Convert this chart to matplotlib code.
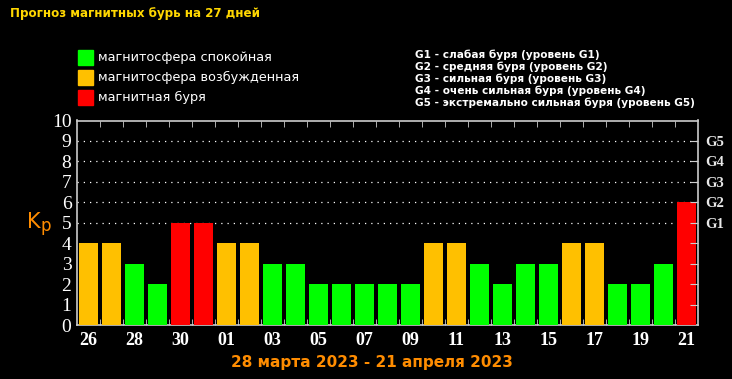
import matplotlib
matplotlib.use("Agg")
import matplotlib.pyplot as plt

# forecast data: one value per day, 26 March .. 21 April
days = ['26', '27', '28', '29', '30', '31', '01', '02', '03', '04', '05', '06', '07', '08',
        '09', '10', '11', '12', '13', '14', '15', '16', '17', '18', '19', '20', '21']
kp = [4, 4, 3, 2, 5, 5, 4, 4, 3, 3, 2, 2, 2, 2, 2, 4, 4, 3, 2, 3, 3, 4, 4, 2, 2, 3, 6]
state = ['w', 'w', 'q', 'q', 's', 's', 'w', 'w', 'q', 'q', 'q', 'q', 'q', 'q', 'q',
         'w', 'w', 'q', 'q', 'q', 'q', 'w', 'w', 'q', 'q', 'q', 's']

state_colors = {'q': '#00ff00', 'w': '#ffc000', 's': '#ff0000'}
legend_labels = ['магнитосфера спокойная', 'магнитосфера возбужденная', 'магнитная буря']
g_levels = [5, 6, 7, 8, 9]
g_names = ['G1', 'G2', 'G3', 'G4', 'G5']
g_text = ['G1 - слабая буря (уровень G1)',
          'G2 - средняя буря (уровень G2)',
          'G3 - сильная буря (уровень G3)',
          'G4 - очень сильная буря (уровень G4)',
          'G5 - экстремально сильная буря (уровень G5)']

plt.rcParams['font.family'] = 'DejaVu Sans'
fig = plt.figure(figsize=(7.32, 3.79), dpi=100, facecolor='black')
ax = fig.add_axes([77 / 732, 54 / 379, 621 / 732, 204.5 / 379], facecolor='black')

x = list(range(len(days)))
ax.bar(x, kp, width=0.83, color=[state_colors[s] for s in state], zorder=3)

for g in g_levels:
    ax.axhline(g, color='white', linestyle=(0, (1, 4)), linewidth=0.9, zorder=1)

ax.set_xlim(-0.5, len(days) - 0.5)
ax.set_ylim(0, 10)

for sp in ax.spines.values():
    sp.set_color('#cccccc')
    sp.set_linewidth(1.2)

# y labels on the left
ax.set_yticks(range(11))
ax.set_yticklabels([str(i) for i in range(11)], color='white',
                   fontsize=14, family='Liberation Serif')
ax.tick_params(axis='y', length=0, pad=4)

# x labels every other day, ticks on slot boundaries
ax.set_xticks(x[::2])
ax.set_xticklabels(days[::2], color='white', fontsize=13, fontweight='bold',
                   family='Liberation Serif')
ax.tick_params(axis='x', which='major', length=0, pad=5)
ax.set_xticks([i + 0.5 for i in x[:-1]], minor=True)
ax.tick_params(axis='x', which='minor', direction='in', length=4, color='#cccccc',
               top=True, bottom=True)

# right axis with G levels
ax2 = ax.twinx()
ax2.set_ylim(0, 10)
ax2.set_yticks(range(1, 10))
ax2.set_yticklabels(['', '', '', ''] + g_names, color='#e8e8e8', fontsize=10.5,
                    family='Liberation Serif', fontweight='bold')
ax2.tick_params(axis='y', direction='in', length=6, color='#cccccc', pad=5)
for sp in ax2.spines.values():
    sp.set_visible(False)

# Kp label
fig.text(27 / 732, 1 - 222 / 379, 'K', color='#ff8c00', fontsize=15, va='center')
fig.text(40 / 732, 1 - 226 / 379, 'p', color='#ff8c00', fontsize=12, va='center')

# title
fig.text(10 / 732, 1 - 13 / 379, 'Прогноз магнитных бурь на 27 дней', color='#ffd700',
         fontsize=8.6, fontweight='bold', va='center')

# state legend
for i, (key, lab) in enumerate(zip(['q', 'w', 's'], legend_labels)):
    yc = 57.5 + 20 * i
    fig.patches.append(plt.Rectangle((78 / 732, 1 - (yc + 7.5) / 379), 15 / 732, 15 / 379,
                                     transform=fig.transFigure, color=state_colors[key]))
    fig.text(98 / 732, 1 - yc / 379, lab, color='white', fontsize=9.3, va='center')

# G legend
for i, t in enumerate(g_text):
    fig.text(415 / 732, 1 - (55 + 12 * i) / 379, t, color='white', fontsize=7.6,
             fontweight='bold', va='center')

# date range
fig.text(372 / 732, 1 - 362 / 379, '28 марта 2023 - 21 апреля 2023', color='#ff8c00',
         fontsize=11, fontweight='bold', ha='center', va='center')

fig.savefig('out.png', dpi=100, facecolor='black')
